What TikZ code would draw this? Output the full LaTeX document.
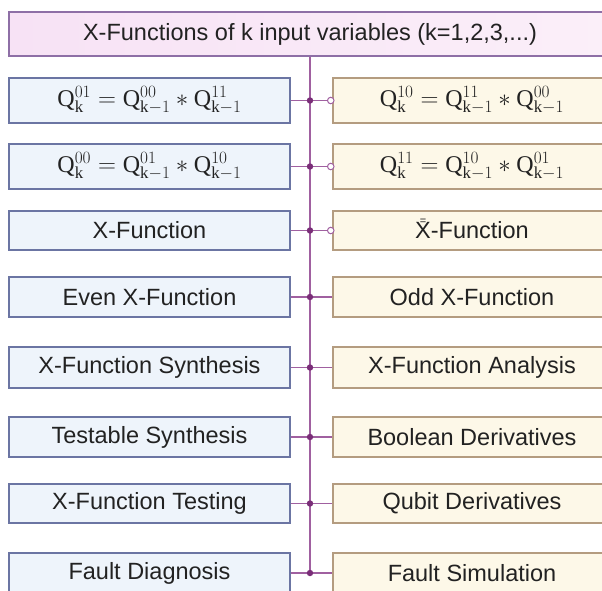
\documentclass[tikz,border=0pt]{standalone}
\usepackage{fontspec}
\setmainfont{Liberation Serif}
\newfontfamily\lsans{Liberation Sans}
\definecolor{lborder}{HTML}{6B75A3}
\definecolor{lfill}{HTML}{EEF4FB}
\definecolor{rborder}{HTML}{B49C80}
\definecolor{rfill}{HTML}{FDF8E8}
\definecolor{tborder}{HTML}{8E6FA6}
\definecolor{tfillL}{HTML}{F7E2F5}
\definecolor{tfillR}{HTML}{FBEFF9}
\definecolor{linec}{HTML}{A060A0}
\definecolor{dotc}{HTML}{7A2E78}
\definecolor{txt}{HTML}{222222}
\newcommand{\xbarbar}{\ooalign{X\cr\hidewidth\raisebox{0.62em}{\fontsize{11}{11}\selectfont =}\hidewidth\cr}}
\begin{document}
\begin{tikzpicture}[x=1pt,y=-1pt,
  lbox/.style={draw=lborder, fill=lfill, line width=1.5pt, minimum width=281pt, inner sep=0pt, text=txt, font=\lsans\fontsize{23.5}{28}\selectfont},
  rbox/.style={draw=rborder, fill=rfill, line width=1.5pt, minimum width=278pt, inner sep=0pt, text=txt, font=\lsans\fontsize{23.5}{28}\selectfont},
  tbox/.style={draw=tborder, left color=tfillL, right color=tfillR, line width=1.5pt, inner sep=0pt, text=txt, font=\lsans\fontsize{23.5}{28}\selectfont},
  fml/.style={font=\fontsize{24}{28}\selectfont},
  conn/.style={draw=linec, line width=1.2pt},
  ocirc/.style={circle, draw=linec, fill=white, line width=1pt, inner sep=0pt, minimum size=6.5pt},
  jdot/.style={fill=dotc}
]
\useasboundingbox (0,0) rectangle (602,590);
\clip (0,0) rectangle (602,590);
\fill[white] (0,0) rectangle (602,590);

\node[tbox, minimum width=602pt, minimum height=44pt] (top) at (310,34) {X-Functions of k input variables (k=1,2,3,...)};

\node[lbox, fml, minimum height=45pt] (L1) at (149.5,100.5) {$\mathrm{Q}_{\mathrm{k}}^{01}=\mathrm{Q}_{\mathrm{k}-1}^{00}\ast\mathrm{Q}_{\mathrm{k}-1}^{11}$};
\node[rbox, fml, minimum height=45pt] (R1) at (472,100.5) {$\mathrm{Q}_{\mathrm{k}}^{10}=\mathrm{Q}_{\mathrm{k}-1}^{11}\ast\mathrm{Q}_{\mathrm{k}-1}^{00}$};
\node[lbox, fml, minimum height=45pt] (L2) at (149.5,166.5) {$\mathrm{Q}_{\mathrm{k}}^{00}=\mathrm{Q}_{\mathrm{k}-1}^{01}\ast\mathrm{Q}_{\mathrm{k}-1}^{10}$};
\node[rbox, fml, minimum height=45pt] (R2) at (472,166.5) {$\mathrm{Q}_{\mathrm{k}}^{11}=\mathrm{Q}_{\mathrm{k}-1}^{10}\ast\mathrm{Q}_{\mathrm{k}-1}^{01}$};
\node[lbox, minimum height=39pt] (L3) at (149.5,230.5) {X-Function};
\node[rbox, minimum height=39pt] (R3) at (472,230.5) {\xbarbar-Function};
\node[lbox, minimum height=40pt] (L4) at (149.5,297) {Even X-Function};
\node[rbox, minimum height=40pt] (R4) at (472,297) {Odd X-Function};
\node[lbox, minimum height=41pt] (L5) at (149.5,367.5) {X-Function Synthesis};
\node[rbox, minimum height=41pt] (R5) at (472,367.5) {X-Function Analysis};
\node[lbox, minimum height=40pt] (L6) at (149.5,437) {Testable Synthesis};
\node[rbox, minimum height=40pt] (R6) at (472,437) {Boolean Derivatives};
\node[lbox, minimum height=39pt] (L7) at (149.5,503.5) {X-Function Testing};
\node[rbox, minimum height=39pt] (R7) at (472,503.5) {Qubit Derivatives};
\node[lbox, minimum height=40pt] (L8) at (149.5,573) {Fault Diagnosis};
\node[rbox, minimum height=40pt] (R8) at (472,573) {Fault Simulation};

\node[ocirc] (o1) at ([xshift=-1.5pt]R1.west) {};
\node[ocirc] (o2) at ([xshift=-1.5pt]R2.west) {};
\node[ocirc] (o3) at ([xshift=-1.5pt]R3.west) {};

\foreach \i in {1,...,8} {\coordinate (j\i) at (top.south |- L\i.east);}

\draw[conn] (top.south) -- (j8);
\draw[conn] (L1.east) -- (o1.west);
\draw[conn] (L2.east) -- (o2.west);
\draw[conn] (L3.east) -- (o3.west);
\draw[conn] (L4.east) -- (R4.west);
\draw[conn] (L5.east) -- (R5.west);
\draw[conn] (L6.east) -- (R6.west);
\draw[conn] (L7.east) -- (R7.west);
\draw[conn] (L8.east) -- (R8.west);

\foreach \i in {1,...,8} {\fill[jdot] (j\i) circle (3.2pt);}
\end{tikzpicture}
\end{document}
